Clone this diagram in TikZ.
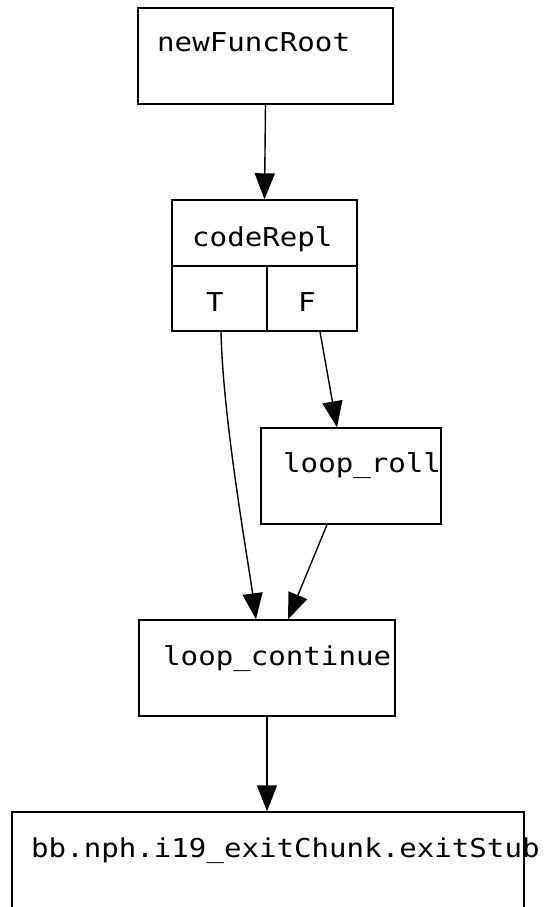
\documentclass[tikz,border=0pt]{standalone}
\usepackage{fontspec}
\newfontfamily\lblfont[FakeStretch=1.12]{DejaVu Sans Mono}
\usetikzlibrary{arrows.meta}
\tikzset{
  box/.style={draw=black, line width=1.4pt, rectangle, inner sep=0pt, fill=white},
  lbl/.style={inner sep=0pt, font=\lblfont\fontsize{26}{26}\selectfont, text=black},
  edge/.style={draw=black, line width=1.4pt, -{Triangle[length=26pt,width=20pt]}},
}
\begin{document}
\begin{tikzpicture}[x=1pt,y=1pt]
\useasboundingbox (0,0) rectangle (557,-907);
% boxes
\node[box, minimum width=255pt, minimum height=96pt] (root) at (265.5,-56) {};
\node[box, minimum width=185pt, minimum height=66pt] (crTitle) at (264.5,-233) {};
\node[box, minimum width=95pt, minimum height=65pt] (crT) at (219.5,-298.5) {};
\node[box, minimum width=90pt, minimum height=65pt] (crF) at (312,-298.5) {};
\node[box, minimum width=180pt, minimum height=96pt] (roll) at (351,-476) {};
\node[box, minimum width=256pt, minimum height=96pt] (cont) at (267,-668) {};
\node[box, minimum width=512pt, minimum height=100pt] (stub) at (268,-862) {};
% labels
\node[lbl, anchor=base west] (tRoot) at (157,-52) {newFuncRoot};
\node[lbl, anchor=base west] (tCr) at (192,-246) {codeRepl};
\node[lbl, anchor=base] (tT) at (215,-311) {T};
\node[lbl, anchor=base] (tF) at (307,-311) {F};
\node[lbl, anchor=base west] (tRoll) at (283,-472) {loop\_roll};
\node[lbl, anchor=base west] (tCont) at (163,-665) {loop\_continue};
\node[lbl, anchor=base west] (tStub) at (31,-857) {bb.nph.i19\_exitChunk.exitStub};
% edges
\draw[edge] (root.south) -- (crTitle.north);
\draw[edge] ([xshift=1.5pt]crT.south) .. controls ([xshift=3.5pt,yshift=-89pt]crT.south) and ([xshift=-19pt,yshift=60pt]cont.north) .. ([xshift=-11pt]cont.north);
\draw[edge] ([xshift=8pt]crF.south) -- ([xshift=-14pt]roll.north);
\draw[edge] ([xshift=-24pt]roll.south) -- ([xshift=21pt]cont.north);
\draw[edge] (cont.south) -- (stub.north -| cont.south);
\end{tikzpicture}
\end{document}
